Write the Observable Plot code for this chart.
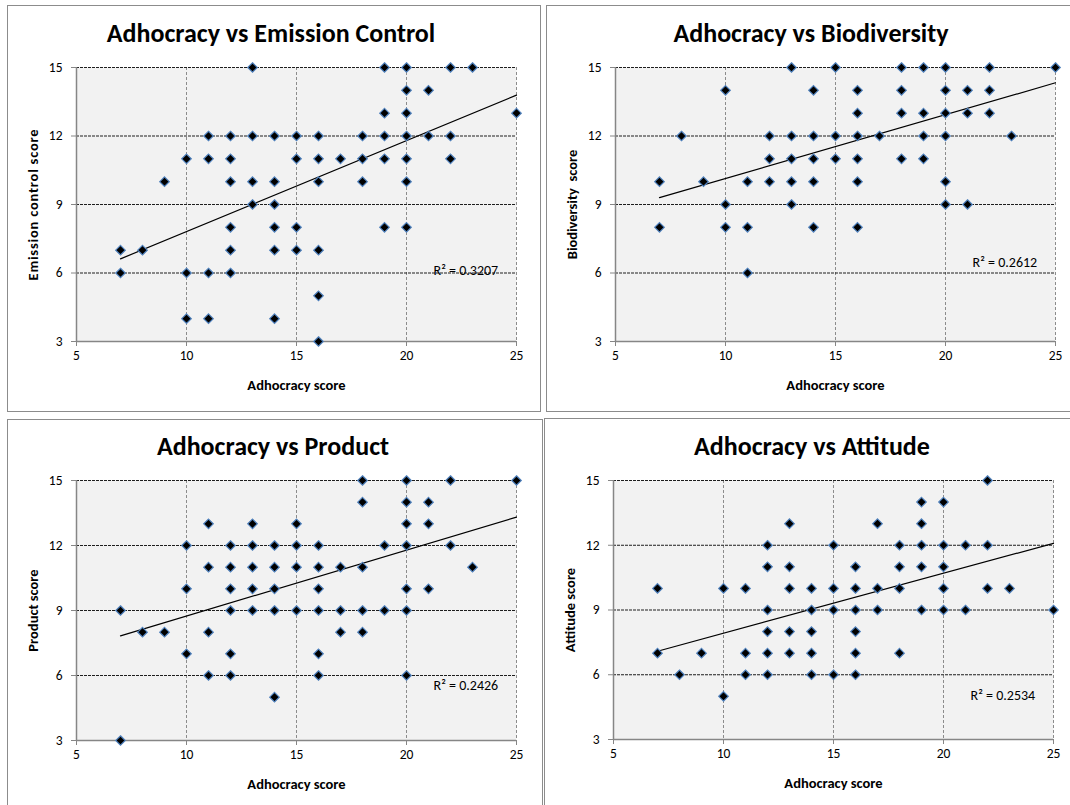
<!DOCTYPE html>
<html>
<head>
<meta charset="utf-8">
<script src="https://cdn.jsdelivr.net/npm/d3@7"></script>
<script src="https://cdn.jsdelivr.net/npm/@observablehq/plot@0.6"></script>
<style>
html, body { margin: 0; padding: 0; background: #fff; }
#root { position: relative; width: 1070px; height: 805px; overflow: hidden; background: #fff; font-family: Carlito, Lato, sans-serif; }
.box { position: absolute; border: 1px solid #8c8c8c; box-sizing: border-box; }
.chart { position: absolute; }
.chart svg { overflow: visible; }
.title { position: absolute; width: 600px; text-align: center; font-weight: bold; font-size: 26px; line-height: 26px; color: #000; white-space: nowrap; }
g[aria-label="x-axis label"], g[aria-label="y-axis label"] { font-weight: bold; font-size: 14.5px; }
</style>
</head>
<body>
<div id="root"></div>
<script>
// ---------- data ----------
const xTicks = [5, 10, 15, 20, 25];
const yTicks = [3, 6, 9, 12, 15];
const xGridValues = [10, 15, 20, 25];
const yGridValues = [6, 9, 12, 15];

const titles = ["Adhocracy vs Emission Control", "Adhocracy vs Biodiversity", "Adhocracy vs Product", "Adhocracy vs Attitude"];
const xLabel = "Adhocracy score";
const yLabels = ["Emission control score", "Biodiversity  score", "Product score", "Attitude score"];
const r2Texts = ["R\u00B2 = 0.3207", "R\u00B2 = 0.2612", "R\u00B2 = 0.2426", "R\u00B2 = 0.2534"];
const r2X = [22.7, 22.7, 22.7, 22.7];
const r2Y = [6.1, 6.45, 5.52, 5.06];

// Emission control
const emissionX = [13,19,20,22,23, 20,21, 19,20,25, 11,12,13,14,15,16,18,19,20,21,22, 10,11,12,15,16,17,18,19,20,22, 9,12,13,14,16,18,20, 13,14, 12,14,15,19,20, 7,8,12,14,15,16, 7,10,11,12, 16, 10,11,14, 16];
const emissionY = [15,15,15,15,15, 14,14, 13,13,13, 12,12,12,12,12,12,12,12,12,12,12, 11,11,11,11,11,11,11,11,11,11, 10,10,10,10,10,10,10, 9,9, 8,8,8,8,8, 7,7,7,7,7,7, 6,6,6,6, 5, 4,4,4, 3];
const emissionTrend = [[7, 6.62], [25, 13.79]];

// Biodiversity
const bioX = [13,15,18,19,20,22,25, 10,14,16,18,20,21,22, 16,18,19,20,21,22, 8,12,13,14,15,16,17,19,20,23, 12,13,14,15,16,18,19, 7,9,11,12,13,14,16,20, 10,13,20,21, 7,10,11,14,16, 11];
const bioY = [15,15,15,15,15,15,15, 14,14,14,14,14,14,14, 13,13,13,13,13,13, 12,12,12,12,12,12,12,12,12,12, 11,11,11,11,11,11,11, 10,10,10,10,10,10,10,10, 9,9,9,9, 8,8,8,8,8, 6];
const bioTrend = [[7, 9.30], [25, 14.33]];

// Product
const productX = [18,20,22,25, 18,20,21, 11,13,15,20,21, 10,12,13,14,15,16,19,20,22, 11,12,13,14,15,16,17,18,23, 10,12,13,14,16,20,21, 7,12,13,14,15,16,17,18,19,20, 8,9,11,17,18, 10,12,16, 11,12,16,20, 14, 7];
const productY = [15,15,15,15, 14,14,14, 13,13,13,13,13, 12,12,12,12,12,12,12,12,12, 11,11,11,11,11,11,11,11,11, 10,10,10,10,10,10,10, 9,9,9,9,9,9,9,9,9,9, 8,8,8,8,8, 7,7,7, 6,6,6,6, 5, 3];
const productTrend = [[7, 7.83], [25, 13.31]];

// Attitude
const attitudeX = [22, 19,20, 13,17,19, 12,15,18,19,20,21,22, 12,13,16,18,19,20, 7,10,11,13,14,15,16,17,18,20,22,23, 12,14,15,16,17,19,20,21,25, 12,13,14,16, 7,9,11,12,13,14,16,18, 8,11,12,14,15,16, 10];
const attitudeY = [15, 14,14, 13,13,13, 12,12,12,12,12,12,12, 11,11,11,11,11,11, 10,10,10,10,10,10,10,10,10,10,10,10, 9,9,9,9,9,9,9,9,9, 8,8,8,8, 7,7,7,7,7,7,7,7, 6,6,6,6,6,6, 5];
const attitudeTrend = [[7, 7.09], [25, 12.09]];

const seriesX = [emissionX, bioX, productX, attitudeX];
const seriesY = [emissionY, bioY, productY, attitudeY];
const trends = [emissionTrend, bioTrend, productTrend, attitudeTrend];

// ---------- layout ----------
const boxes = [
  {left: 7, top: 5, width: 534, height: 407},
  {left: 546, top: 5, width: 540, height: 407},
  {left: 7, top: 419, width: 536, height: 400},
  {left: 544, top: 418, width: 540, height: 400}
];
const charts = [
  {left: 7, top: 5, width: 534, height: 406, ml: 69, mr: 25, mt: 62, mb: 70, tx: 271, ty: 20, ls: 0.8},
  {left: 546, top: 5, width: 524, height: 406, ml: 69, mr: 15, mt: 62, mb: 70, tx: 811, ty: 20, ls: 0},
  {left: 7, top: 419, width: 535, height: 386, ml: 69, mr: 26, mt: 61, mb: 65, tx: 273, ty: 433, ls: 0},
  {left: 544, top: 419, width: 526, height: 386, ml: 69, mr: 17, mt: 61, mb: 66, tx: 812, ty: 433, ls: 0}
];

const root = document.getElementById("root");
const font = "Carlito, Lato, sans-serif";

boxes.forEach(b => {
  const d = document.createElement("div");
  d.className = "box";
  Object.assign(d.style, {left: b.left + "px", top: b.top + "px", width: b.width + "px", height: b.height + "px"});
  root.appendChild(d);
});

charts.forEach((c, i) => {
  const pts = seriesX[i].map((x, j) => ({x, y: seriesY[i][j]}));
  const plot = Plot.plot({
    width: c.width,
    height: c.height,
    marginLeft: c.ml, marginRight: c.mr, marginTop: c.mt, marginBottom: c.mb,
    style: {fontFamily: font, fontSize: "13.5px", background: "transparent", color: "#000", overflow: "visible"},
    x: {domain: [5, 25]},
    y: {domain: [3, 15]},
    marks: [
      Plot.frame({fill: "#f2f2f2", stroke: "none"}),
      Plot.ruleX(xGridValues, {stroke: "#8c8c8c", strokeDasharray: "3,2", strokeWidth: 1}),
      Plot.ruleY(yGridValues, {stroke: "#1e1e1e", strokeDasharray: "3,1", strokeWidth: 1}),
      Plot.ruleX([5], {stroke: "#868686", strokeWidth: 1.5}),
      Plot.ruleY([3], {stroke: "#868686", strokeWidth: 1.5}),
      Plot.axisX({ticks: xTicks, tickSize: 5, tickPadding: 4, stroke: "#868686", fontSize: 13.5,
        label: xLabel, labelAnchor: "center", labelOffset: 48, labelArrow: "none"}),
      Plot.axisY({ticks: yTicks, tickSize: 5, tickPadding: 9, stroke: "#868686", fontSize: 13.5,
        label: yLabels[i], labelAnchor: "center", labelOffset: 49, labelArrow: "none"}),
      Plot.line(trends[i], {x: d => d[0], y: d => d[1], stroke: "#000", strokeWidth: 1.2}),
      Plot.dot(pts, {x: "x", y: "y", symbol: "diamond2", r: 4.3, fill: "#000", stroke: "#4f81bd", strokeWidth: 1.2}),
      Plot.text([0], {x: () => r2X[i], y: () => r2Y[i], text: () => r2Texts[i], fontSize: 14, fill: "#000"})
    ]
  });
  const yl = plot.querySelector('g[aria-label="y-axis label"]');
  if (yl && c.ls) yl.style.letterSpacing = c.ls + "px";
  const holder = document.createElement("div");
  holder.className = "chart";
  Object.assign(holder.style, {left: c.left + "px", top: c.top + "px"});
  holder.appendChild(plot);
  root.appendChild(holder);

  const t = document.createElement("div");
  t.className = "title";
  t.textContent = titles[i];
  Object.assign(t.style, {left: (c.tx - 300) + "px", top: c.ty + "px"});
  root.appendChild(t);
});
</script>
</body>
</html>
